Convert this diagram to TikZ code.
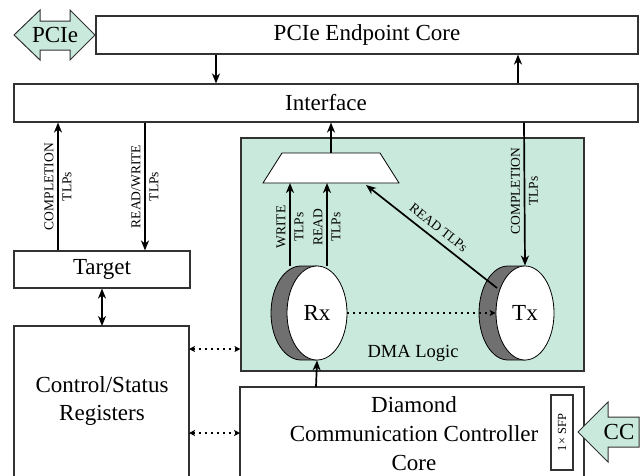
\documentclass[tikz,border=0pt]{standalone}
\usepackage{fontspec}
\setmainfont{Liberation Serif}
\usetikzlibrary{arrows.meta,shapes.geometric,calc}
\definecolor{dmagreen}{RGB}{201,233,221}
\definecolor{rimgray}{RGB}{112,112,112}
\definecolor{edge}{RGB}{50,50,50}
\tikzset{
  box/.style={draw=edge,line width=1.1pt,rectangle,inner sep=0pt},
  tip/.tip={Stealth[length=10pt,width=8pt,inset=3pt]},
  stip/.tip={Stealth[length=6pt,width=6pt,inset=1.5pt]},
  arr/.style={line width=1.7pt,-tip},
  darr/.style={line width=1.7pt,tip-tip},
  dotarr/.style={line width=1.5pt,dash pattern=on 1.5pt off 4.5pt,stip-stip},
  dotarrone/.style={line width=1.5pt,dash pattern=on 1.5pt off 4.5pt,-stip},
  big/.style={font=\fontsize{23}{28}\selectfont},
  small/.style={font=\fontsize{13.5}{18}\selectfont,align=center,rotate=90,inner sep=0pt},
  rim/.style={fill=rimgray,draw=black,line width=0.8pt},
  disc/.style={ellipse,draw=black,fill=white,line width=0.8pt,inner sep=0pt,big},
}
\begin{document}
\begin{tikzpicture}[x=1pt,y=-1pt]
\useasboundingbox (0,0) rectangle (644,475);
% boxes
\node[box,minimum width=542pt,minimum height=38pt,big] (core) at (367,35) {PCIe Endpoint Core};
\node[box,minimum width=624pt,minimum height=38pt,big] (iface) at (326,103) {Interface};
\node[box,minimum width=176pt,minimum height=37pt,big] (target) at (102,269.5) {Target};
\draw[edge,line width=1.1pt] (14,480) -- (14,326) -- (189,326) -- (189,480);
\node[big,align=center] (csr) at (102,401) {Control/Status\\Registers};
\coordinate (csrtop) at (102,326);
\node[box,fill=dmagreen,minimum width=343pt,minimum height=233pt] (dma) at (412.5,254.5) {};
\node[font=\fontsize{18.5}{22}\selectfont] (dmalbl) at (413,353) {DMA Logic};
\draw[edge,line width=1.1pt] (240,480) -- (240,387) -- (584,387) -- (584,480);
\coordinate (dccw) at (240,433);
\coordinate (dcctop) at (316,387);
\node[align=center,font=\fontsize{23}{29}\selectfont] (dcc) at (414,434) {Diamond\\Communication Controller\\Core};
\node[box,minimum width=75pt,minimum height=22pt,font=\fontsize{12.4}{14}\selectfont,rotate=90] (sfp) at (562,432.5) {1\texttimes{} SFP};
% PCIe arrow
\filldraw[fill=dmagreen,draw=edge,line width=1pt] (14,35) -- (40,10) -- (40,21) -- (70,21) -- (70,10) -- (95,35) -- (70,60) -- (70,50) -- (40,50) -- (40,60) -- cycle;
\node[big] (pcie) at (55,35) {PCIe};
% CC arrow
\filldraw[fill=dmagreen,draw=edge,line width=1pt] (578,432) -- (608,402) -- (608,417) -- (639,417) -- (639,447) -- (608,447) -- (608,462) -- cycle;
\node[big] (cc) at (619,432) {CC};
% mux
\filldraw[fill=white,draw=black,line width=0.8pt] (282,153) coordinate (muxtl) -- (380,153) coordinate (muxtr) -- (399,183) coordinate (muxbr) -- (263,183) coordinate (muxbl) -- cycle;
\coordinate (muxtop) at (331,153);
\coordinate (muxin) at (366,185);
% Rx and Tx discs
\filldraw[rim] (317,266) -- (301,266) arc[start angle=90,end angle=270,x radius=30pt,y radius=47pt] -- (317,360) -- cycle;
\node[disc,minimum width=60pt,minimum height=94pt] (rx) at (317,313) {Rx};
\filldraw[rim] (525,266) -- (508,266) arc[start angle=90,end angle=270,x radius=29pt,y radius=47pt] -- (525,360) -- cycle;
\node[disc,minimum width=58pt,minimum height=94pt] (tx) at (525,313) {Tx};
\coordinate (txrim) at (497,288);
% connectors
\draw[arr] (core.south -| 216,0) -- (iface.north -| 216,0);
\draw[arr] (iface.north -| 518,0) -- (core.south -| 518,0);
\draw[arr] (target.north -| 58,0) -- node[small] (l1) {COMPLETION\\TLPs} (iface.south -| 58,0);
\draw[arr] (iface.south -| 145,0) -- node[small] (l2) {READ/WRITE\\TLPs} (target.north -| 145,0);
\draw[darr] (target.south) -- (csrtop);
\draw[dotarr] (189,349) -- (dma.west |- 0,349);
\draw[dotarr] (189,433) -- (dccw);
\draw[arr] (dcctop) -- (rx.south);
\draw[arr] (290,266) -- node[small,pos=0.47] (l3) {WRITE\\TLPs} (muxbl -| 290,0);
\draw[arr] (327,266) -- node[small,pos=0.47] (l4) {READ\\TLPs} (muxbl -| 327,0);
\draw[arr] (muxtop) -- (iface.south -| muxtop);
\draw[arr] (iface.south -| 524,0) -- node[small,pos=0.48] (l5) {COMPLETION\\TLPs} (tx.north);
\draw[arr] (txrim) -- node[sloped,above=6pt,font=\fontsize{13.5}{16}\selectfont,inner sep=0pt] (l6) {READ TLPs} (muxin);
\draw[dotarrone] (rx.east) -- (tx.west);
\end{tikzpicture}
\end{document}
